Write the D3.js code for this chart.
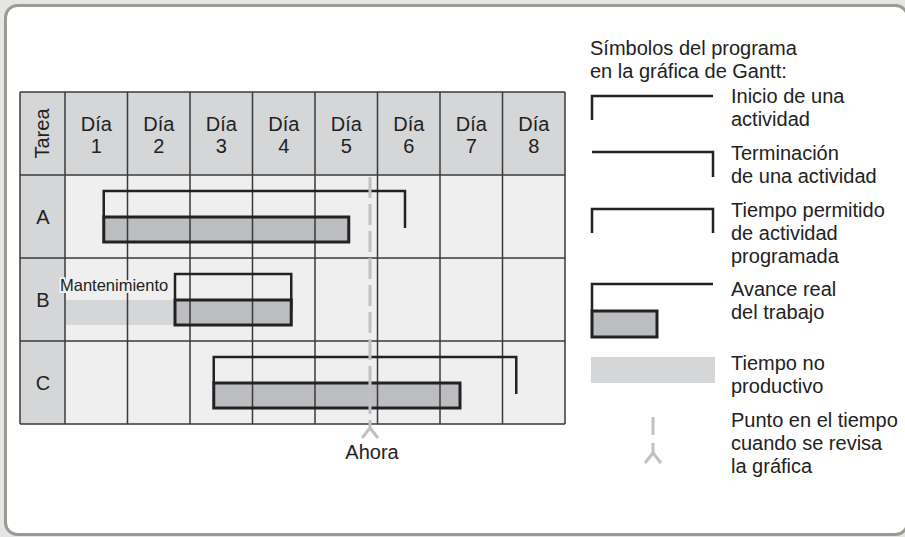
<!doctype html>
<html lang="es">
<head>
<meta charset="utf-8">
<title>Gráfica de Gantt</title>
<style>
  body { margin: 0; background: #e5e5e5; }
  svg { display: block; font-family: "Liberation Sans", Arial, Helvetica, sans-serif; }
</style>
</head>
<body>
<script src="https://cdn.jsdelivr.net/npm/d3@7/dist/d3.min.js"></script>
<script>
// chart values (days counted from the start of Día 1)
const days = ["1", "2", "3", "4", "5", "6", "7", "8"];
const tasks = ["A", "B", "C"];
const plannedStart = [0.62, 1.76, 2.38];
const plannedEnd = [5.44, 3.62, 7.22];
const actualEnd = [4.54, 3.62, 6.32];
const idleTask = ["B"];
const idleFrom = [0];
const idleTo = [1.76];
const idleLabel = ["Mantenimiento"];
const reviewDay = 4.88;
const reviewLabel = "Ahora";

const legendTitle = ["Símbolos del programa", "en la gráfica de Gantt:"];
const legendLabels = [
  ["Inicio de una", "actividad"],
  ["Terminación", "de una actividad"],
  ["Tiempo permitido", "de actividad", "programada"],
  ["Avance real", "del trabajo"],
  ["Tiempo no", "productivo"],
  ["Punto en el tiempo", "cuando se revisa", "la gráfica"]
];

const width = 905;
const height = 537;

const svg = d3.select("body").append("svg")
  .attr("width", width)
  .attr("height", height)
  .attr("viewBox", "0 0 " + width + " " + height);

// outer frame
svg.append("rect")
  .attr("x", 5.5).attr("y", 5.5)
  .attr("width", 902).attr("height", 529)
  .attr("rx", 12)
  .attr("fill", "#fff")
  .attr("stroke", "#9b9b92")
  .attr("stroke-width", 3);

const gridLeft = 20, gridTop = 92, headerBottom = 175, gridBottom = 424;

const x = d3.scaleLinear().domain([0, days.length]).range([65, 565]);
const y = d3.scaleBand().domain(tasks).range([headerBottom, gridBottom]);
const rowH = y.bandwidth();

// offsets inside each row
const topLine = 16, barTop = 42, barBottom = 67, endDrop = 53;

const ink = "#222";
const gridInk = "#3a3a3a";

// cell backgrounds
svg.append("rect")
  .attr("x", gridLeft).attr("y", gridTop)
  .attr("width", x.range()[1] - gridLeft).attr("height", headerBottom - gridTop)
  .attr("fill", "#d5d6d8");
svg.append("rect")
  .attr("x", gridLeft).attr("y", headerBottom)
  .attr("width", x(0) - gridLeft).attr("height", gridBottom - headerBottom)
  .attr("fill", "#d5d6d8");
svg.append("rect")
  .attr("x", x(0)).attr("y", headerBottom)
  .attr("width", x.range()[1] - x(0)).attr("height", gridBottom - headerBottom)
  .attr("fill", "#efefef");

// non productive time
svg.selectAll("rect.idle")
  .data(idleTask)
  .enter().append("rect")
  .attr("class", "idle")
  .attr("x", (d, i) => x(idleFrom[i]))
  .attr("y", d => y(d) + barTop)
  .attr("width", (d, i) => x(idleTo[i]) - x(idleFrom[i]))
  .attr("height", barBottom - barTop)
  .attr("fill", "#d5d6d8");

// actual progress fill
svg.selectAll("rect.bar")
  .data(tasks)
  .enter().append("rect")
  .attr("class", "bar")
  .attr("x", (d, i) => x(plannedStart[i]))
  .attr("y", d => y(d) + barTop)
  .attr("width", (d, i) => x(actualEnd[i]) - x(plannedStart[i]))
  .attr("height", barBottom - barTop)
  .attr("fill", "#bcbdc0");

// grid lines
const grid = svg.append("g")
  .attr("stroke", gridInk)
  .attr("stroke-width", 1.5);
d3.range(days.length + 1).forEach(function (i) {
  grid.append("line")
    .attr("x1", x(i)).attr("x2", x(i))
    .attr("y1", gridTop).attr("y2", gridBottom);
});
[gridTop, headerBottom].concat(tasks.map(t => y(t) + rowH)).forEach(function (v) {
  grid.append("line")
    .attr("x1", gridLeft).attr("x2", x.range()[1])
    .attr("y1", v).attr("y2", v);
});
grid.append("line")
  .attr("x1", gridLeft).attr("x2", gridLeft)
  .attr("y1", gridTop).attr("y2", gridBottom);

// schedule brackets
svg.selectAll("path.plan")
  .data(tasks)
  .enter().append("path")
  .attr("class", "plan")
  .attr("d", function (d, i) {
    const r = y(d);
    return "M" + x(plannedStart[i]) + "," + (r + barTop) +
      "V" + (r + topLine) +
      "H" + x(plannedEnd[i]) +
      "V" + (r + endDrop);
  })
  .attr("fill", "none")
  .attr("stroke", ink)
  .attr("stroke-width", 2.5);

// progress outlines
svg.selectAll("rect.barOutline")
  .data(tasks)
  .enter().append("rect")
  .attr("class", "barOutline")
  .attr("x", (d, i) => x(plannedStart[i]))
  .attr("y", d => y(d) + barTop)
  .attr("width", (d, i) => x(actualEnd[i]) - x(plannedStart[i]))
  .attr("height", barBottom - barTop)
  .attr("fill", "none")
  .attr("stroke", ink)
  .attr("stroke-width", 3);

// header texts
const head = svg.append("g")
  .attr("font-size", 20)
  .attr("fill", "#222")
  .attr("text-anchor", "middle");
days.forEach(function (d, i) {
  const cx = x(i + 0.5);
  head.append("text").attr("x", cx).attr("y", 131).text("Día");
  head.append("text").attr("x", cx).attr("y", 153).text(d);
});
head.append("text")
  .attr("transform", "translate(49," + ((gridTop + headerBottom) / 2) + ") rotate(-90)")
  .text("Tarea");
tasks.forEach(function (t) {
  head.append("text")
    .attr("x", (gridLeft + x(0)) / 2 + 0.5)
    .attr("y", y(t) + rowH / 2 + 7)
    .text(t);
});

// idle label
svg.selectAll("text.idleLabel")
  .data(idleTask)
  .enter().append("text")
  .attr("class", "idleLabel")
  .attr("x", x(0) - 5)
  .attr("y", d => y(d) + 33)
  .attr("font-size", 16.5)
  .attr("fill", "#222")
  .attr("stroke", "#efefef")
  .attr("stroke-width", 4)
  .attr("paint-order", "stroke")
  .text((d, i) => idleLabel[i]);

// review line
const rx = x(reviewDay);
const tip = gridBottom + 4;
svg.append("line")
  .attr("x1", rx).attr("x2", rx)
  .attr("y1", headerBottom + 2).attr("y2", tip)
  .attr("stroke", "#c0c1c4")
  .attr("stroke-width", 3)
  .attr("stroke-dasharray", "21,6");
svg.append("path")
  .attr("d", "M" + (rx - 8) + "," + (tip + 10) + "L" + rx + "," + tip + "L" + (rx + 8) + "," + (tip + 10))
  .attr("fill", "none")
  .attr("stroke", "#c0c1c4")
  .attr("stroke-width", 3);
svg.append("text")
  .attr("x", rx + 2)
  .attr("y", 459)
  .attr("text-anchor", "middle")
  .attr("font-size", 20)
  .attr("fill", "#222")
  .text(reviewLabel);

// legend
const leg = svg.append("g");
const lx0 = 592, lx1 = 713, tx = 731;

leg.selectAll("text.title")
  .data(legendTitle)
  .enter().append("text")
  .attr("x", 590)
  .attr("y", (d, i) => 55 + i * 23)
  .attr("font-size", 20)
  .attr("fill", "#222")
  .text(d => d);

const symbols = [
  "M" + lx0 + ",120V96H" + lx1,
  "M" + lx0 + ",152H" + lx1 + "V177",
  "M" + lx0 + ",233V209H" + lx1 + "V233",
  "M" + lx0 + ",311V284H" + lx1
];
symbols.forEach(function (p) {
  leg.append("path")
    .attr("d", p)
    .attr("fill", "none")
    .attr("stroke", ink)
    .attr("stroke-width", 2.5);
});
leg.append("rect")
  .attr("x", lx0).attr("y", 311)
  .attr("width", 65).attr("height", 26)
  .attr("fill", "#bcbdc0")
  .attr("stroke", ink)
  .attr("stroke-width", 3);
leg.append("rect")
  .attr("x", lx0 - 1).attr("y", 357)
  .attr("width", 124).attr("height", 26)
  .attr("fill", "#d5d6d8");
leg.append("line")
  .attr("x1", 653).attr("x2", 653)
  .attr("y1", 417).attr("y2", 453)
  .attr("stroke", "#c0c1c4")
  .attr("stroke-width", 3)
  .attr("stroke-dasharray", "18,8");
leg.append("path")
  .attr("d", "M645,463L653,453L661,463")
  .attr("fill", "none")
  .attr("stroke", "#c0c1c4")
  .attr("stroke-width", 3);

const legendY = [103, 160, 217, 296, 370, 427];
legendLabels.forEach(function (lines, k) {
  lines.forEach(function (s, j) {
    leg.append("text")
      .attr("x", tx)
      .attr("y", legendY[k] + j * 23)
      .attr("font-size", 20)
      .attr("fill", "#222")
      .text(s);
  });
});
</script>
</body>
</html>
